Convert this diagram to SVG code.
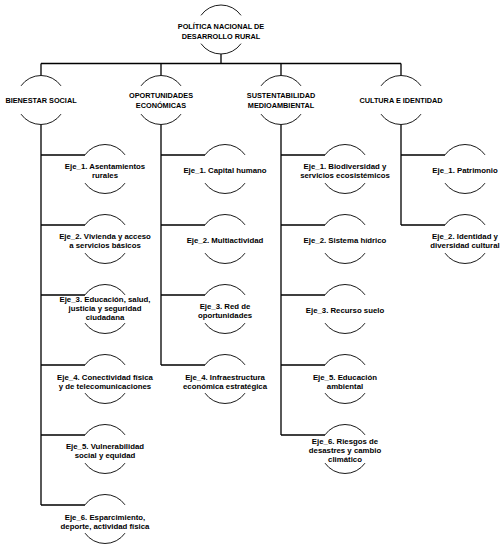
<svg xmlns="http://www.w3.org/2000/svg" width="501" height="553" viewBox="0 0 501 553">
<style>
.bg{fill:#ffffff}
.arc{fill:none;stroke:#1a1a1a;stroke-width:1}
.con{fill:none;stroke:#000000;stroke-width:1.3}
text{font-family:"Liberation Sans",Arial,sans-serif;font-weight:bold;fill:#000000;text-anchor:middle}
.cap{font-size:7.3px}
.eje{font-size:7.8px}
</style>
<defs>
<g id="ring">
<path class="arc" d="M -20 -14.15 A 24.5 24.5 0 0 1 20 -14.15"/>
<path class="arc" d="M -20 14.15 A 24.5 24.5 0 0 0 20 14.15"/>
</g>
</defs>
<rect class="bg" x="0" y="0" width="501" height="553"/>

<g id="connectors">
<path class="con" d="M221 54 V63.5 M41 63.5 H401 M41 63.5 V75.5 M161 63.5 V75.5 M281 63.5 V75.5 M401 63.5 V75.5"/>
<path class="con" d="M41 124.5 V505 M41 155 H85 M41 225 H85 M41 295 H85 M41 365 H85 M41 435 H85 M41 505 H85"/>
<path class="con" d="M161 124.5 V365 M161 155 H205 M161 225 H205 M161 295 H205 M161 365 H205"/>
<path class="con" d="M281 124.5 V435 M281 155 H325 M281 225 H325 M281 295 H325 M281 365 H325 M281 435 H325"/>
<path class="con" d="M401 124.5 V225 M401 155 H445 M401 225 H445"/>
</g>

<g id="root">
<use href="#ring" x="221" y="29.5"/>
<text class="cap" x="221" y="29">POLÍTICA NACIONAL DE</text>
<text class="cap" x="221" y="38.7">DESARROLLO RURAL</text>
</g>

<g id="bienestar">
<use href="#ring" x="41" y="100"/>
<text class="cap" x="41" y="102.7">BIENESTAR SOCIAL</text>
</g>
<g id="oportunidades">
<use href="#ring" x="161" y="100"/>
<text class="cap" x="161" y="98.3">OPORTUNIDADES</text>
<text class="cap" x="161" y="107.7">ECONÓMICAS</text>
</g>
<g id="sustentabilidad">
<use href="#ring" x="281" y="100"/>
<text class="cap" x="281" y="98.3">SUSTENTABILIDAD</text>
<text class="cap" x="281" y="107.7">MEDIOAMBIENTAL</text>
</g>
<g id="cultura">
<use href="#ring" x="401" y="100"/>
<text class="cap" x="401" y="102.7">CULTURA E IDENTIDAD</text>
</g>

<!-- Column 1 -->
<g id="bs1">
<use href="#ring" x="105" y="169"/>
<text class="eje" x="105" y="168.5">Eje_1. Asentamientos</text>
<text class="eje" x="105" y="177.5">rurales</text>
</g>
<g id="bs2">
<use href="#ring" x="105" y="239"/>
<text class="eje" x="105" y="239.3">Eje_2. Vivienda y acceso</text>
<text class="eje" x="105" y="248.3">a servicios básicos</text>
</g>
<g id="bs3">
<use href="#ring" x="105" y="309"/>
<text class="eje" x="105" y="301.7">Eje_3. Educación, salud,</text>
<text class="eje" x="105" y="310.7">justicia y seguridad</text>
<text class="eje" x="105" y="319.5">ciudadana</text>
</g>
<g id="bs4">
<use href="#ring" x="105" y="379"/>
<text class="eje" x="105" y="379.5">Eje_4. Conectividad física</text>
<text class="eje" x="105" y="388.5">y de telecomunicaciones</text>
</g>
<g id="bs5">
<use href="#ring" x="105" y="449"/>
<text class="eje" x="105" y="449">Eje_5. Vulnerabilidad</text>
<text class="eje" x="105" y="458">social y equidad</text>
</g>
<g id="bs6">
<use href="#ring" x="105" y="519"/>
<text class="eje" x="105" y="520">Eje_6. Esparcimiento,</text>
<text class="eje" x="105" y="529">deporte, actividad física</text>
</g>

<!-- Column 2 -->
<g id="oe1">
<use href="#ring" x="225" y="169"/>
<text class="eje" x="225" y="173">Eje_1. Capital humano</text>
</g>
<g id="oe2">
<use href="#ring" x="225" y="239"/>
<text class="eje" x="225" y="243">Eje_2. Multiactividad</text>
</g>
<g id="oe3">
<use href="#ring" x="225" y="309"/>
<text class="eje" x="225" y="308.5">Eje_3. Red de</text>
<text class="eje" x="225" y="317.5">oportunidades</text>
</g>
<g id="oe4">
<use href="#ring" x="225" y="379"/>
<text class="eje" x="225" y="379.5">Eje_4. Infraestructura</text>
<text class="eje" x="225" y="388.5">económica estratégica</text>
</g>

<!-- Column 3 -->
<g id="sm1">
<use href="#ring" x="345" y="169"/>
<text class="eje" x="345" y="168.5">Eje_1. Biodiversidad y</text>
<text class="eje" x="345" y="177.5">servicios ecosistémicos</text>
</g>
<g id="sm2">
<use href="#ring" x="345" y="239"/>
<text class="eje" x="345" y="243">Eje_2. Sistema hídrico</text>
</g>
<g id="sm3">
<use href="#ring" x="345" y="309"/>
<text class="eje" x="345" y="313">Eje_3. Recurso suelo</text>
</g>
<g id="sm4">
<use href="#ring" x="345" y="379"/>
<text class="eje" x="345" y="379.5">Eje_5. Educación</text>
<text class="eje" x="345" y="388.5">ambiental</text>
</g>
<g id="sm5">
<use href="#ring" x="345" y="449"/>
<text class="eje" x="345" y="443.5">Eje_6. Riesgos de</text>
<text class="eje" x="345" y="452.5">desastres y cambio</text>
<text class="eje" x="345" y="462">climático</text>
</g>

<!-- Column 4 -->
<g id="ci1">
<use href="#ring" x="465" y="169"/>
<text class="eje" x="465" y="173">Eje_1. Patrimonio</text>
</g>
<g id="ci2">
<use href="#ring" x="465" y="239"/>
<text class="eje" x="465" y="239.3">Eje_2. Identidad y</text>
<text class="eje" x="465" y="248.3">diversidad cultural</text>
</g>
</svg>
